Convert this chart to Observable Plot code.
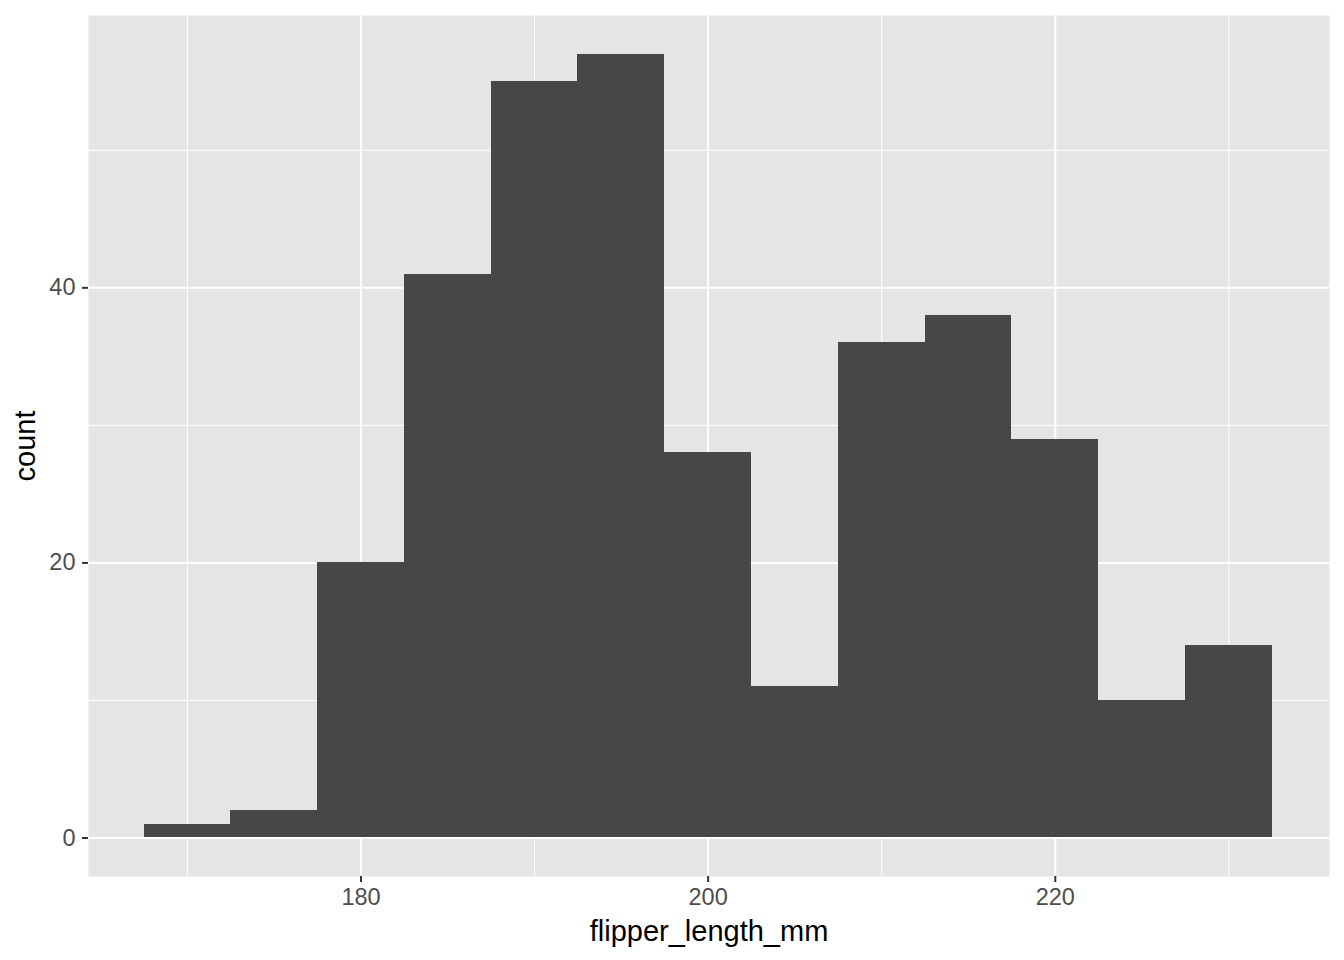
<!DOCTYPE html>
<html><head><meta charset="utf-8">
<script src="https://cdn.jsdelivr.net/npm/d3@7"></script>
<script src="https://cdn.jsdelivr.net/npm/@observablehq/plot@0.6"></script>
<style>
body{margin:0;background:#fff;font-family:"Liberation Sans",Arial,sans-serif}
</style>
</head><body><div id="chart"></div>
<script>
const binStarts = [167.5,172.5,177.5,182.5,187.5,192.5,197.5,202.5,207.5,212.5,217.5,222.5,227.5];
const binWidth = 5;
const counts = [1,2,20,41,55,57,28,11,36,38,29,10,14];
const xMajor = [180,200,220];
const xMinor = [170,190,210,230];
const yMajor = [0,20,40];
const yMinor = [10,30,50];
const xLabel = "flipper_length_mm";
const yLabel = "count";

const bins = binStarts.map((s,i)=>({x1:s,x2:s+binWidth,count:counts[i]}));

const chart = Plot.plot({
  width:1344, height:960,
  marginLeft:88, marginRight:15, marginTop:15, marginBottom:84,
  style:{fontFamily:"Liberation Sans, Arial, sans-serif", fontSize:"23.5px", color:"#4d4d4d", background:"white"},
  x:{domain:[164.3,235.8], label:null},
  y:{domain:[-2.8,59.8], label:null},
  marks:[
    Plot.frame({fill:"#e5e5e5", stroke:null}),
    Plot.ruleX(xMinor,{stroke:"white",strokeWidth:1}),
    Plot.ruleY(yMinor,{stroke:"white",strokeWidth:1}),
    Plot.ruleX(xMajor,{stroke:"white",strokeWidth:2}),
    Plot.ruleY(yMajor,{stroke:"white",strokeWidth:2}),
    Plot.rectY(bins,{x1:"x1",x2:"x2",y1:0,y2:"count",fill:"#474747",inset:0,shapeRendering:"crispEdges"}),
    Plot.axisX(xMajor,{tickSize:6,stroke:"#333",strokeWidth:2,fill:"#4d4d4d",tickPadding:6,fontSize:23.5,label:null}),
    Plot.axisY(yMajor,{tickSize:6,stroke:"#333",strokeWidth:2,fill:"#4d4d4d",tickPadding:7,fontSize:23.5,label:null}),
    Plot.text([xLabel],{frameAnchor:"bottom",dy:64,fill:"black",fontSize:29,text:d=>d}),
    Plot.text([yLabel],{frameAnchor:"left",textAnchor:"middle",dx:-63,rotate:-90,fill:"black",fontSize:29,text:d=>d})
  ]
});
d3.select(chart).selectAll('g[aria-label="x-axis tick label"], g[aria-label="y-axis tick label"]')
  .attr("font-size", 23.5).style("font-size","23.5px");
document.getElementById("chart").appendChild(chart);
</script></body></html>
